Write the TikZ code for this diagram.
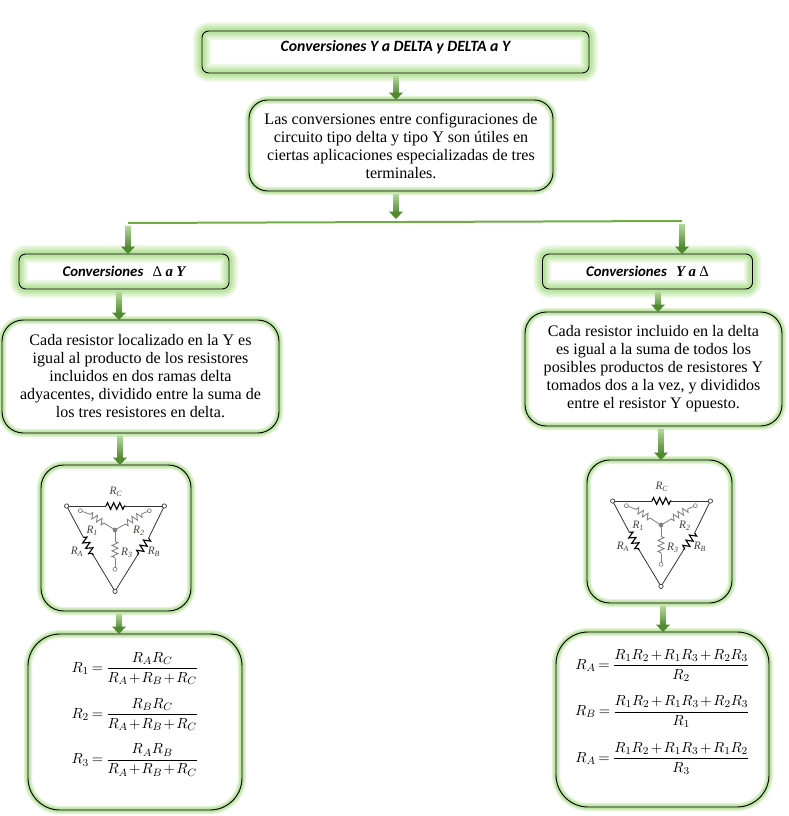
\documentclass[tikz,border=0pt]{standalone}
\usepackage{fontspec}
\usepackage{amsmath}
\setmainfont{Liberation Serif}
\newfontfamily\headfont{Carlito}
\usetikzlibrary{calc,arrows.meta,decorations.pathmorphing}
\definecolor{gla}{HTML}{F1F9EA}
\definecolor{glb}{HTML}{E0F3D3}
\definecolor{glc}{HTML}{CEEBBA}
\definecolor{gld}{HTML}{BBE3A1}
\definecolor{gtop}{HTML}{B0D596}
\definecolor{gbot}{HTML}{4F8A31}
\definecolor{busc}{HTML}{70AD47}
\definecolor{ygray}{HTML}{808080}
\definecolor{lblc}{HTML}{4A4038}
\tikzset{
  x=0.75pt,y=-0.75pt,
  base/.style={inner sep=0pt,outer sep=0pt,align=center,draw=black,line width=0.7pt},
  wideglow/.style={base,
    preaction={fill=white},
    preaction={draw=gla,line width=13.5pt},
    preaction={draw=glb,line width=11pt},
    preaction={draw=glc,line width=8pt},
    preaction={draw=gld,line width=5pt}},
  thinglow/.style={base,
    preaction={fill=white},
    preaction={draw=glb,line width=6pt},
    preaction={draw=glc,line width=4.2pt},
    preaction={draw=gld,line width=2.6pt}},
  headbox/.style={wideglow,rounded corners=5pt,font=\fontsize{11.8}{13}\selectfont\headfont\bfseries\itshape},
  convbox/.style={wideglow,rounded corners=5pt,font=\fontsize{11.1}{13}\selectfont\headfont\bfseries\itshape},
  parabox/.style={thinglow,font=\fontsize{12.05}{13.5}\selectfont},
  picbox/.style={thinglow,rounded corners=17pt},
  formbox/.style={thinglow,rounded corners=24pt,font=\fontsize{10.8}{13}\selectfont},
  busline/.style={draw=busc,line width=1.5pt},
  gsegment/.style={line width=4.6pt},
  gtip/.style={draw=gbot,line width=4.6pt,-{Triangle[width=10pt,length=5.5pt]}},
  ywire/.style={draw=ygray,line width=0.6pt},
  dwire/.style={draw=black!80,line width=0.6pt},
  zigd/.style={decorate,decoration={zigzag,amplitude=2.5pt,segment length=4.6pt},line width=0.85pt,draw=black},
  zigy/.style={decorate,decoration={zigzag,amplitude=2.3pt,segment length=4.1pt},draw=ygray,line width=0.65pt},
  term/.style={fill=white,line width=0.5pt},
  clabel/.style={inner sep=0pt,text=lblc,font=\fontsize{8.5}{9}\selectfont\itshape},
}
% gradient connector: from #1 to #2 on the vertical through #3
\newcommand\gconn[3]{%
  \coordinate (gs) at ($(#1 -| #3)+(0,3)$);
  \coordinate (ge) at (#2 -| #3);
  \foreach \i [evaluate=\i as \a using \i/12,
               evaluate=\i as \b using (\i+1.3)/12,
               evaluate=\i as \m using \i*100/9] in {0,...,9}{
    \draw[gsegment,draw=gbot!\m!gtop] ($(gs)!\a!(ge)$) -- ($(gs)!\b!(ge)$);
  }
  \draw[gtip] ($(gs)!0.8!(ge)$) -- (ge);
}
\newcommand\circuit[3]{%
\begin{scope}[shift={(#1,#2)},x=0.25pt,y=-0.25pt]
  \coordinate (#3tl) at (110,138);
  \coordinate (#3tr) at (403,138);
  \coordinate (#3bt) at (255,394);
  \coordinate (#3ct) at (255,210);
  % Y branches
  \draw[ywire] (151,152) -- (180,163);
  \draw[zigy] (180,163) -- (228,193);
  \draw[ywire] (228,193) -- (#3ct);
  \draw[ywire] (358,152) -- (335,162);
  \draw[zigy] (335,162) -- (284,193);
  \draw[ywire] (284,193) -- (#3ct);
  \draw[ywire] (#3ct) -- (255,244);
  \draw[zigy] (255,244) -- (255,298);
  \draw[ywire] (255,298) -- (255,328);
  \fill[ygray] (#3ct) circle[radius=7];
  \foreach \p in {(151,152),(358,152),(255,328)}{\draw[term,draw=ygray] \p circle[radius=6];}
  % delta
  \draw[dwire] (#3tl) -- (228,138);
  \draw[zigd] (228,138) -- (286,138);
  \draw[dwire] (286,138) -- (#3tr);
  \draw[dwire] (#3tl) -- (160,232);
  \draw[zigd] (160,232) -- (190,286);
  \draw[dwire] (190,286) -- (#3bt);
  \draw[dwire] (#3tr) -- (356,234);
  \draw[zigd] (356,234) -- (322,286);
  \draw[dwire] (322,286) -- (#3bt);
  \foreach \p in {#3tl,#3tr,#3bt}{\draw[term,draw=black!80] (\p) circle[radius=6.5];}
  \node[clabel] (#3rc) at (258,95) {R\textsubscript{\itshape C}};
  \node[clabel] (#3r1) at (187,212) {R\textsubscript{1}};
  \node[clabel] (#3r2) at (327,212) {R\textsubscript{2}};
  \node[clabel] (#3r3) at (291,278) {R\textsubscript{3}};
  \node[clabel] (#3ra) at (141,275) {R\textsubscript{\itshape A}};
  \node[clabel] (#3rb) at (372,275) {R\textsubscript{\itshape B}};
\end{scope}}
\begin{document}
\begin{tikzpicture}
\useasboundingbox[fill=white] (0,0) rectangle (788,816);
% boxes
\node[headbox,minimum width=290.25pt,minimum height=31.5pt] (title) at (395.5,52)
  {\raisebox{0pt}[0pt][0pt]{Conversiones Y a DELTA y DELTA a Y}};
\node[parabox,rounded corners=14pt,minimum width=228pt,minimum height=68.25pt] (intro) at (401,145.5)
  {Las conversiones entre configuraciones de\\circuito tipo delta y tipo Y son útiles en\\ciertas aplicaciones especializadas de tres\\terminales.};
\node[convbox,minimum width=157.5pt,minimum height=26.25pt] (convL) at (124,271.5)
  {Conversiones\hspace{7pt}{\rmfamily\mdseries\upshape Δ}\hspace{2.5pt}{\rmfamily a\hspace{2.5pt}Y}};
\node[convbox,minimum width=157.5pt,minimum height=26.25pt] (convR) at (647.5,271.5)
  {Conversiones\hspace{7pt}{\rmfamily Y\hspace{2.5pt}a}\hspace{2.5pt}{\rmfamily\mdseries\upshape Δ}};
\node[parabox,rounded corners=16pt,minimum width=207.75pt,minimum height=84.75pt] (paraL) at (140.5,376.5)
  {Cada resistor localizado en la Y es\\igual al producto de los resistores\\incluidos en dos ramas delta\\adyacentes, dividido entre la suma de\\los tres resistores en delta.};
\node[parabox,rounded corners=16pt,minimum width=192.75pt,minimum height=85.5pt] (paraR) at (653.5,369)
  {Cada resistor incluido en la delta\\es igual a la suma de todos los\\posibles productos de resistores Y\\tomados dos a la vez, y divididos\\entre el resistor Y opuesto.};
\node[picbox,minimum width=112.5pt,minimum height=109.5pt] (picL) at (116,538) {};
\node[picbox,minimum width=108.75pt,minimum height=107.25pt] (picR) at (659.5,531.5) {};
\node[formbox,minimum width=160.5pt,minimum height=132pt] (formL) at (135,722)
  {\raisebox{3pt}[0pt][0pt]{$\thickmuskip=3.5mu\medmuskip=1.5mu\begin{array}{@{}c@{}}
   \displaystyle R_1=\frac{R_AR_C}{R_A+R_B+R_C}\\[15.5pt]
   \displaystyle R_2=\frac{R_BR_C}{R_A+R_B+R_C}\\[15.5pt]
   \displaystyle R_3=\frac{R_AR_B}{R_A+R_B+R_C}\end{array}$}};
\node[formbox,minimum width=159.75pt,minimum height=131.25pt] (formR) at (662.5,719.5)
  {\raisebox{3pt}[0pt][0pt]{$\thickmuskip=3.5mu\medmuskip=2mu\begin{array}{@{}c@{}}
   \displaystyle R_A=\frac{R_1R_2+R_1R_3+R_2R_3}{R_2}\\[16pt]
   \displaystyle R_B=\frac{R_1R_2+R_1R_3+R_2R_3}{R_1}\\[16pt]
   \displaystyle R_A=\frac{R_1R_2+R_1R_3+R_1R_2}{R_3}\end{array}$}};
% circuits
\circuit{30}{460}{cl}
\circuit{576}{455}{cr}
% vertical guides for the connectors
\coordinate (ka) at (396,0);
\coordinate (kb) at (119,0);
\coordinate (kc) at (120,0);
\coordinate (kd) at (658,0);
\coordinate (ke) at (661,0);
\coordinate (kf) at (663,0);
\coordinate (busL) at (128,223);
\coordinate (busR) at (682,221);
\coordinate (busT) at (396,219);
% connectors
\gconn{title.south}{intro.north}{ka}
\coordinate (busM) at (ka |- busT);
\gconn{intro.south}{busM}{ka}
\draw[busline] (busL) -- (busR);
\gconn{busL}{convL.north}{busL}
\gconn{busR}{convR.north}{busR}
\gconn{convL.south}{paraL.north}{kb}
\gconn{convR.south}{paraR.north}{kd}
\gconn{paraL.south}{picL.north}{kc}
\gconn{paraR.south}{picR.north}{ke}
\gconn{picL.south}{formL.north}{kb}
\gconn{picR.south}{formR.north}{kf}
\end{tikzpicture}
\end{document}
